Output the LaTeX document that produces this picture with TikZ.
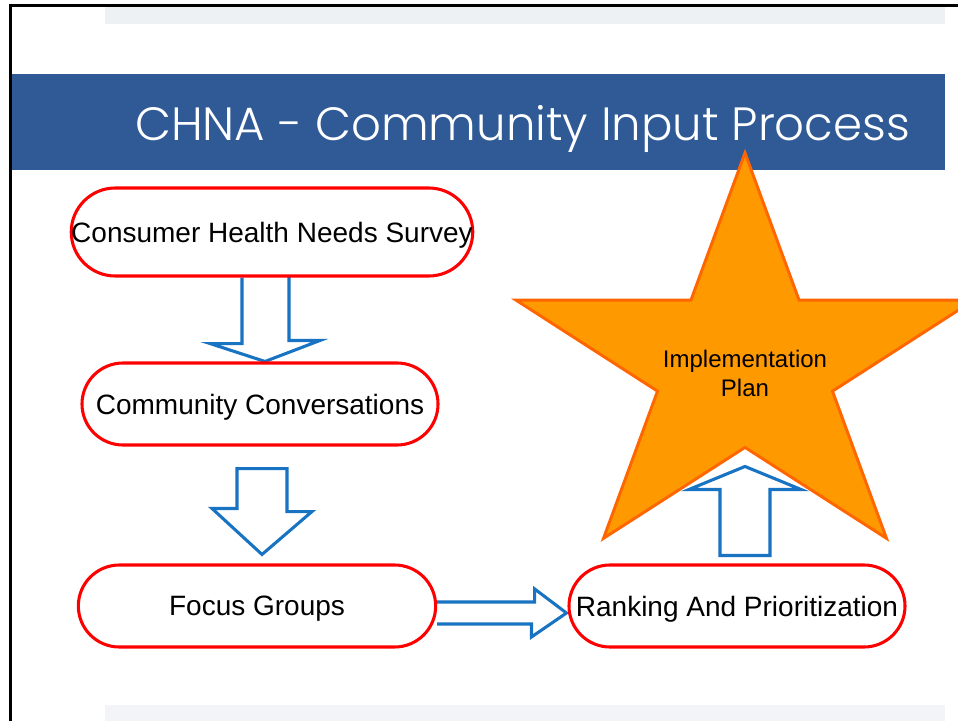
\documentclass[tikz,border=0pt]{standalone}
\usepackage{fontspec}
\setmainfont{Liberation Sans}
\newfontfamily\titlefont{Poppins Light}
\usetikzlibrary{calc}
\definecolor{barblue}{HTML}{2F5A96}
\definecolor{arrowblue}{HTML}{1873C2}
\definecolor{topgray}{HTML}{EDF1F4}
\definecolor{botgray}{HTML}{F3F4F7}
\definecolor{starfill}{HTML}{FF9900}
\definecolor{starline}{HTML}{FF6600}
\pgfdeclarelayer{back}
\pgfdeclarelayer{arrows}
\pgfsetlayers{back,arrows,main}
\tikzstyle{stage} = [draw=red, line width=2.3pt, fill=white, inner sep=0pt, text depth=0pt, minimum height=61.5pt, rounded corners=30.75pt, font=\fontsize{21}{25}\selectfont]
\tikzstyle{blockarrow} = [draw=arrowblue, line width=2.3pt, fill=white, line join=miter]
\tikzstyle{bigstar} = [draw=starline, line width=2.2pt, fill=starfill, line join=miter]

\begin{document}
\begin{tikzpicture}[x=0.75pt, y=-0.75pt]
    \useasboundingbox (0,0) rectangle (958,721);
    \clip (0,0) rectangle (958,721);

    % Slide background
    \begin{pgfonlayer}{back}
        \fill[white] (0,0) rectangle (958,721);
        \fill[topgray] (105,6) rectangle (945,24);
        \fill[botgray] (105,705) rectangle (945,721);
        \fill[barblue] (12,74) rectangle (945,170);
        \draw[line width=1.9pt] (10.5,721) -- (10.5,5.5) -- (958,5.5);
        \node[anchor=base west, inner sep=0pt, text=white, font=\titlefont\fontsize{35}{40}\selectfont] (title) at (135,140) {CHNA - Community Input Process};

        % Star
        \begin{scope}[shift={(745,366)}, xscale=1.13]
            \draw[bigstar] (-90:213) -- (-54:81.4) -- (-18:213) -- (18:81.4) -- (54:213) -- (90:81.4) -- (126:213) -- (162:81.4) -- (198:213) -- (234:81.4) -- cycle;
        \end{scope}
        \node[align=center, font=\fontsize{18}{21.75}\selectfont] (plan) at (745,373) {Implementation\\Plan};
    \end{pgfonlayer}

    % Stages
    \node[stage, minimum width=300pt, minimum height=66pt, rounded corners=33pt] (survey) at (272,232) {Consumer Health Needs Survey};
    \node[stage, minimum width=267pt] (conv) at (260,404) {Community Conversations};
    \node[stage, minimum width=268pt] (focus) at (257,606) {Focus Groups};
    \node[stage, minimum width=252pt] (rank) at (737,606) {Ranking And Prioritization};

    % Block arrows
    \begin{pgfonlayer}{arrows}
        \draw[blockarrow] ($(survey.south)+(-30,0)$) -- ++(0,66) -- ++(-32,0) -- ($(conv.north)+(5,0)$) -- ++(55,-21) -- ++(-31,0) -- ++(0,-66);
        \draw[blockarrow] ($(conv.south)+(-23,22)$) -- ++(50,0) -- ++(0,43) -- ++(25,0) -- ($(focus.north)+(5,-9)$) -- ++(-50,-46) -- ++(25,0) -- cycle;
        \draw[blockarrow] ($(focus.east)+(0,-4)$) -- ++(97.5,0) -- ++(0,-13) -- ($(rank.west)+(-1,7)$) -- ++(-35,24) -- ++(0,-13) -- ($(focus.east)+(0,18)$);
        \draw[blockarrow] ($(rank.north)+(-17,-8)$) -- ++(0,-66) -- ++(-31,0) -- ($(rank.north)+(8,-97)$) -- ++(56,23) -- ++(-31,0) -- ++(0,66) -- cycle;
    \end{pgfonlayer}
\end{tikzpicture}
\end{document}
